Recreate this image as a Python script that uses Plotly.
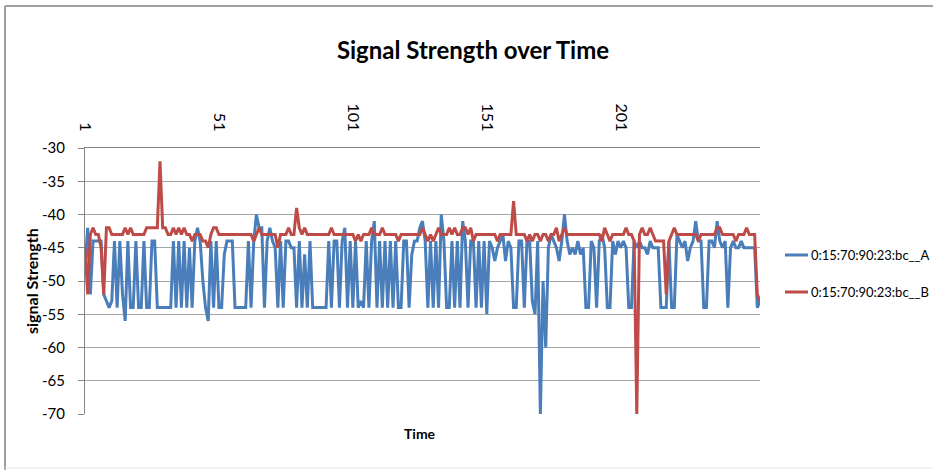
import plotly.graph_objects as go

series_a_name = "0:15:70:90:23:bc__A"
series_b_name = "0:15:70:90:23:bc__B"

x_tick_labels = ["1", "51", "101", "151", "201"]
x_tick_positions = [1, 51, 101, 151, 201]
y_tick_values = [-70, -65, -60, -55, -50, -45, -40, -35, -30]
y_tick_labels = ["-70", "-65", "-60", "-55", "-50", "-45", "-40", "-35", "-30"]

signal_a = [
    -48, -42, -52, -44, -44, -44, -44, -52, -53, -54,
    -53, -44, -54, -44, -52, -56, -44, -54, -54, -44,
    -54, -54, -44, -54, -54, -44, -44, -54, -54, -54,
    -54, -54, -54, -44, -54, -44, -54, -44, -54, -45,
    -54, -44, -42, -44, -50, -54, -56, -44, -54, -44,
    -54, -54, -46, -44, -44, -44, -54, -54, -54, -54,
    -54, -44, -54, -44, -40, -42, -42, -54, -44, -42,
    -44, -45, -54, -44, -54, -44, -44, -45, -45, -54,
    -44, -54, -46, -54, -44, -54, -54, -54, -54, -54,
    -54, -44, -54, -44, -44, -54, -44, -42, -54, -44,
    -54, -44, -54, -53, -54, -44, -54, -44, -41, -54,
    -44, -54, -44, -54, -44, -54, -44, -54, -54, -44,
    -44, -54, -46, -44, -44, -42, -41, -44, -54, -44,
    -54, -44, -54, -40, -44, -54, -54, -44, -54, -44,
    -54, -41, -44, -54, -44, -44, -54, -44, -54, -44,
    -55, -44, -45, -47, -45, -44, -43, -47, -44, -45,
    -54, -54, -44, -44, -54, -44, -44, -53, -55, -44,
    -70, -50, -60, -45, -43, -44, -45, -47, -44, -40,
    -44, -46, -45, -46, -44, -46, -45, -54, -54, -44,
    -45, -54, -44, -43, -45, -54, -54, -44, -46, -44,
    -45, -44, -45, -54, -54, -44, -45, -44, -45, -45,
    -46, -44, -45, -45, -45, -54, -54, -54, -44, -54,
    -54, -43, -44, -45, -44, -47, -45, -44, -41, -44,
    -44, -54, -54, -44, -44, -45, -41, -44, -45, -44,
    -54, -45, -44, -45, -45, -44, -45, -45, -45, -45,
    -45, -54, -53,
]

signal_b = [
    -45, -52, -43, -42, -43, -43, -45, -52, -42, -42,
    -43, -43, -43, -43, -43, -42, -43, -42, -43, -43,
    -43, -43, -43, -42, -42, -42, -42, -42, -32, -42,
    -42, -43, -43, -42, -43, -42, -43, -42, -43, -43,
    -44, -43, -43, -43, -44, -44, -45, -43, -42, -42,
    -43, -43, -43, -43, -43, -43, -43, -43, -43, -43,
    -43, -43, -43, -44, -43, -42, -43, -43, -43, -43,
    -43, -43, -45, -43, -43, -43, -42, -43, -43, -39,
    -42, -43, -42, -43, -43, -43, -43, -43, -43, -43,
    -43, -43, -42, -43, -43, -43, -43, -43, -43, -43,
    -43, -44, -43, -44, -43, -43, -43, -42, -43, -43,
    -43, -42, -43, -43, -43, -43, -43, -44, -43, -43,
    -43, -43, -43, -43, -43, -43, -42, -43, -44, -43,
    -44, -43, -42, -43, -43, -43, -42, -43, -42, -43,
    -43, -42, -42, -43, -42, -44, -43, -43, -43, -43,
    -43, -43, -43, -43, -44, -43, -43, -43, -43, -43,
    -38, -43, -43, -43, -43, -44, -43, -44, -43, -43,
    -44, -43, -43, -44, -43, -43, -42, -44, -43, -42,
    -43, -43, -43, -43, -43, -43, -43, -43, -43, -43,
    -43, -43, -43, -44, -42, -43, -44, -43, -43, -43,
    -43, -43, -42, -43, -43, -44, -70, -43, -42, -43,
    -43, -42, -43, -44, -44, -44, -44, -52, -44, -43,
    -42, -43, -43, -43, -43, -43, -43, -43, -43, -44,
    -43, -43, -43, -43, -43, -43, -42, -42, -43, -43,
    -43, -43, -43, -44, -43, -43, -43, -42, -43, -43,
    -43, -52, -53,
]

x_a = list(range(1, len(signal_a) + 1))
x_b = list(range(1, len(signal_b) + 1))

color_a = "#4A7EBB"
color_b = "#BE4B48"
font_family = "Lato, 'Open Sans', sans-serif"

W, H = 933, 470
L, R, T, B = 85, 173, 148, 56
PW, PH = W - L - R, H - T - B


def px(xp):
    return (xp - L) / PW


def py(yp):
    return (H - B - yp) / PH


fig = go.Figure()
fig.add_trace(go.Scatter(
    x=x_a, y=signal_a, mode="lines", name=series_a_name,
    line=dict(color=color_a, width=3), showlegend=False,
))
fig.add_trace(go.Scatter(
    x=x_b, y=signal_b, mode="lines", name=series_b_name,
    line=dict(color=color_b, width=3), showlegend=False,
))

fig.update_layout(
    width=W, height=H,
    margin=dict(l=L, r=R, t=T, b=B, autoexpand=False),
    paper_bgcolor="white", plot_bgcolor="white",
    font=dict(family=font_family, size=14, color="#000000"),
    title=dict(
        text="<b>Signal Strength over Time</b>",
        x=473 / W, xanchor="center", y=1 - 51 / H, yanchor="middle",
        font=dict(family=font_family, size=24, color="#000000"),
    ),
    showlegend=False,
    xaxis=dict(
        side="top", automargin=False,
        range=[1, len(signal_a)],
        tickmode="array", tickvals=x_tick_positions, ticktext=x_tick_labels,
        tickangle=90, ticklabelstandoff=10,
        showgrid=False, zeroline=False,
        showline=True, linecolor="#868686", linewidth=1,
        ticks="", tickfont=dict(size=16, family=font_family),
    ),
    yaxis=dict(
        automargin=False,
        range=[-70, -30],
        tickmode="array", tickvals=y_tick_values, ticktext=y_tick_labels,
        showgrid=True, gridcolor="#A6A6A6", gridwidth=1,
        zeroline=False,
        showline=True, linecolor="#868686", linewidth=1,
        ticks="outside", ticklen=6, tickcolor="#868686",
        ticklabelstandoff=10,
        tickfont=dict(size=15, family=font_family),
    ),
)

# axis titles (Excel layout)
fig.add_annotation(
    text="<b>Time</b>", xref="paper", yref="paper",
    x=px(420), y=py(433), xanchor="center", yanchor="middle", showarrow=False,
    font=dict(size=14, family=font_family, color="#000000"),
)
fig.add_annotation(
    text="<b>signal Strength</b>", xref="paper", yref="paper",
    x=px(31), y=py(281), xanchor="center", yanchor="middle", showarrow=False,
    textangle=-90,
    font=dict(size=16, family=font_family, color="#000000"),
)

# legend drawn beside the plot
for name, color, yp in [(series_a_name, color_a, 255), (series_b_name, color_b, 292)]:
    fig.add_shape(type="line", xref="paper", yref="paper",
                  x0=px(785), x1=px(808), y0=py(yp), y1=py(yp),
                  line=dict(color=color, width=3))
    fig.add_annotation(
        text=name, xref="paper", yref="paper",
        x=px(809), y=py(yp), xanchor="left", yanchor="middle", showarrow=False,
        font=dict(size=13, family=font_family, color="#000000"),
    )

# chart-area border
fig.add_shape(type="line", xref="paper", yref="paper",
              x0=px(5), x1=px(933), y0=py(6), y1=py(6),
              line=dict(color="#A0A0A0", width=2))
fig.add_shape(type="line", xref="paper", yref="paper",
              x0=px(5), x1=px(5), y0=py(6), y1=py(470),
              line=dict(color="#A0A0A0", width=2))
fig.add_shape(type="line", xref="paper", yref="paper",
              x0=px(5), x1=px(933), y0=py(468), y1=py(468),
              line=dict(color="#E6E6E6", width=1))

fig.write_html(
    "out.html",
    config={"displayModeBar": False},
    post_script="document.body.style.margin='0px';document.body.style.overflow='hidden';",
)
